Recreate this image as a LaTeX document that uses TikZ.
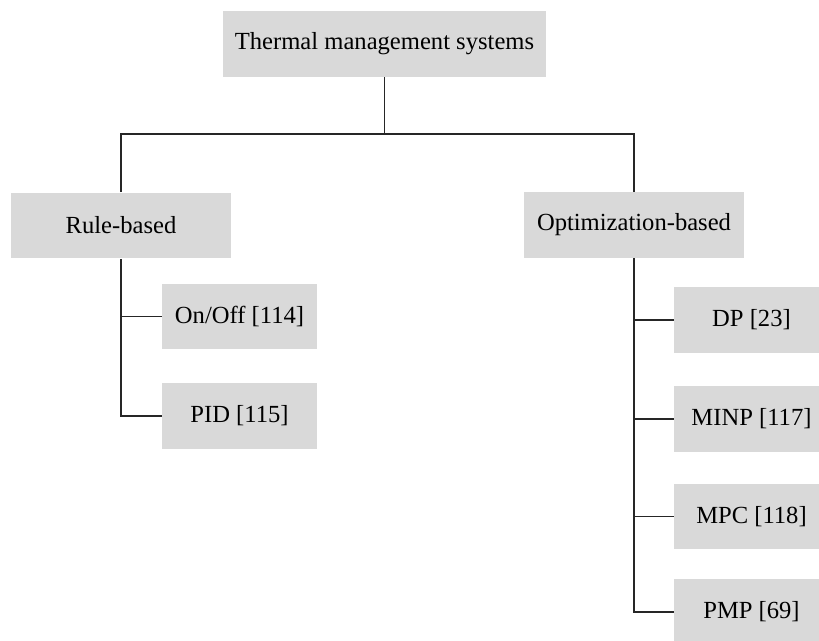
\documentclass[tikz,border=0pt]{standalone}
\usepackage{fontspec}
\setmainfont{Liberation Serif}

\begin{document}
\begin{tikzpicture}[
  x=0.02cm, y=-0.02cm,
  box/.style={rectangle, fill=black!15, inner sep=0pt, align=center, minimum height=1.32cm, font=\fontsize{14}{17}\selectfont},
  root/.style={box, minimum width=6.46cm},
  branch/.style={box, minimum width=4.4cm},
  leaf/.style={box, minimum width=3.1cm},
  link/.style={draw=black!85, line width=0.8pt},
]

\clip (0,0) rectangle (819,641);

% === Root ===
\node[root] (tms) at (384.5, 44) {Thermal management systems};
\coordinate (bus) at (384.5, 134);

% === Two families ===
\node[branch] (rule) at (121, 225.5) {Rule-based};
\node[branch] (opt) at (634, 225) {Optimization-based};

% === Rule-based methods ===
\node[leaf] (onoff) at (239.5, 316.5) {On/Off [114]};
\node[leaf] (pid) at (239.5, 416) {PID [115]};

% === Optimization-based methods ===
\node[leaf] (dp) at (751.5, 320) {DP [23]};
\node[leaf] (minp) at (751.5, 419) {MINP [117]};
\node[leaf] (mpc) at (751.5, 516.5) {MPC [118]};
\node[leaf] (pmp) at (751.5, 612) {PMP [69]};

% === Connectors ===
\draw[link] (tms.south) -- (bus);
\draw[link] (rule.north) |- (bus) -| (opt.north);

\draw[link] (rule.south) |- (pid.west);
\draw[link] (rule.south |- onoff.west) -- (onoff.west);

\draw[link] (opt.south) |- (pmp.west);
\foreach \m in {dp, minp, mpc}
  \draw[link] (opt.south |- \m.west) -- (\m.west);

\end{tikzpicture}
\end{document}
